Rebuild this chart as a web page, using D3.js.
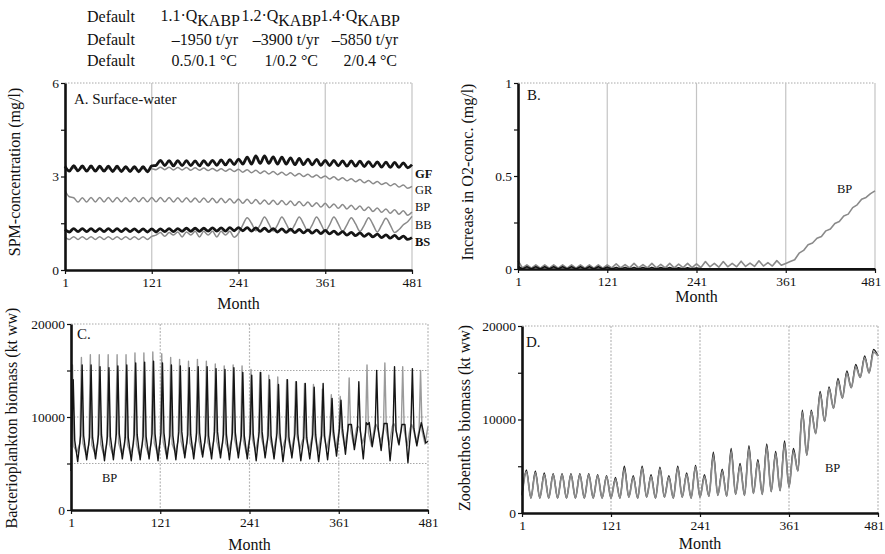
<!DOCTYPE html>
<html>
<head>
<meta charset="utf-8">
<script src="https://cdn.jsdelivr.net/npm/d3@7"></script>
<style>
  body { margin: 0; background: #fff; }
  svg { display: block; font-family: "Liberation Serif", "Times New Roman", serif; }
</style>
</head>
<body>
<svg id="chart" width="885" height="554"></svg>
<script>
// ---------- scenario header ----------
const scenarioFactors = ["1.1·Q", "1.2·Q", "1.4·Q"];
const scenarioLoads = ["–1950 t/yr", "–3900 t/yr", "–5850 t/yr"];
const scenarioTemps = ["0.5/0.1 °C", "1/0.2 °C", "2/0.4 °C"];

// ---------- shared month axis ----------
const monthTicks = [1, 121, 241, 361, 481];
const halfYearMonths = d3.range(1, 482, 6); // months 1, 7, 13, ... 481

// ---------- A. surface-water SPM (mg/l), half-yearly ----------
const gfSpm = [3.33,3.17,3.35,3.18,3.34,3.17,3.34,3.17,3.33,3.17,3.33,3.16,3.33,3.16,3.32,3.16,3.32,3.15,3.32,3.15,3.34,
  3.36,3.52,3.35,3.51,3.34,3.51,3.35,3.51,3.35,3.50,3.34,3.51,3.36,3.52,3.36,3.53,3.37,3.54,3.38,3.56,
  3.40,3.62,3.40,3.66,3.42,3.66,3.42,3.63,3.40,3.62,3.40,3.60,3.38,3.58,3.38,3.56,3.37,3.55,3.36,3.52,
  3.35,3.52,3.34,3.50,3.33,3.50,3.33,3.49,3.32,3.48,3.31,3.47,3.30,3.46,3.29,3.45,3.29,3.44,3.28,3.38];
const grSpm = [3.26,3.20,3.27,3.21,3.27,3.21,3.27,3.21,3.27,3.21,3.26,3.21,3.26,3.20,3.26,3.20,3.26,3.20,3.26,3.20,3.25,
  3.22,3.30,3.22,3.30,3.21,3.29,3.21,3.29,3.20,3.28,3.20,3.27,3.19,3.26,3.18,3.25,3.17,3.24,3.16,3.23,
  3.14,3.22,3.12,3.20,3.10,3.18,3.08,3.16,3.06,3.14,3.04,3.12,3.02,3.10,3.00,3.07,2.98,3.05,2.95,3.02,
  2.92,2.99,2.89,2.96,2.86,2.93,2.83,2.90,2.80,2.87,2.77,2.84,2.74,2.80,2.70,2.77,2.66,2.73,2.62,2.68];
const bpSpm = [2.55,2.35,2.32,2.18,2.32,2.18,2.33,2.18,2.33,2.18,2.33,2.18,2.33,2.19,2.33,2.19,2.33,2.19,2.33,2.19,2.33,
  2.19,2.33,2.19,2.33,2.18,2.32,2.18,2.32,2.18,2.31,2.17,2.31,2.17,2.30,2.16,2.30,2.16,2.29,2.15,2.28,
  2.14,2.27,2.13,2.26,2.12,2.25,2.11,2.24,2.10,2.23,2.09,2.21,2.07,2.20,2.06,2.18,2.04,2.16,2.02,2.14,
  2.00,2.12,1.98,2.10,1.96,2.08,1.94,2.05,1.91,2.02,1.88,1.99,1.85,1.96,1.82,1.93,1.79,1.90,1.76,1.86];
const bbSpm = [1.06,0.98,1.07,0.98,1.07,0.98,1.07,0.98,1.07,0.98,1.07,0.98,1.07,0.98,1.07,0.98,1.07,0.98,1.07,0.98,1.08,
  1.12,1.20,1.08,1.20,1.12,1.22,1.06,1.22,1.12,1.24,1.06,1.24,1.12,1.24,1.06,1.24,1.12,1.24,1.05,1.18,
  1.45,1.68,1.50,1.26,1.45,1.70,1.48,1.25,1.45,1.70,1.48,1.25,1.46,1.70,1.48,1.24,1.45,1.70,1.48,1.24,
  1.45,1.70,1.48,1.24,1.45,1.68,1.48,1.24,1.44,1.68,1.46,1.22,1.44,1.66,1.44,1.20,1.30,1.45,1.55,1.72];
const bsSpm = [1.30,1.22,1.33,1.23,1.33,1.23,1.33,1.23,1.33,1.23,1.33,1.23,1.33,1.23,1.33,1.23,1.32,1.22,1.32,1.22,1.32,
  1.22,1.32,1.23,1.33,1.23,1.33,1.24,1.34,1.24,1.34,1.24,1.34,1.25,1.35,1.25,1.35,1.25,1.36,1.26,1.36,
  1.26,1.36,1.25,1.35,1.24,1.34,1.23,1.33,1.22,1.32,1.21,1.31,1.20,1.30,1.19,1.29,1.18,1.28,1.17,1.27,
  1.16,1.25,1.14,1.23,1.12,1.21,1.10,1.19,1.08,1.17,1.06,1.15,1.04,1.13,1.02,1.11,1.00,1.09,0.98,1.04];

// ---------- B. increase in O2 concentration (mg/l), half-yearly ----------
const o2Bp = [0.045,0.006,0.022,0.005,0.022,0.005,0.022,0.005,0.022,0.005,0.022,0.005,0.022,0.005,0.022,0.005,0.022,0.005,0.022,0.005,0.022,
  0.006,0.028,0.006,0.024,0.006,0.030,0.006,0.024,0.006,0.030,0.006,0.025,0.006,0.030,0.006,0.026,0.007,0.030,0.007,0.028,
  0.008,0.040,0.012,0.030,0.010,0.040,0.012,0.030,0.012,0.042,0.014,0.032,0.014,0.044,0.016,0.034,0.016,0.045,0.020,0.030,
  0.040,0.050,0.085,0.100,0.130,0.140,0.165,0.175,0.205,0.215,0.245,0.255,0.285,0.295,0.330,0.345,0.375,0.385,0.405,0.420];
const o2Default = [0.014,0,0.012,0,0.012,0,0.012,0,0.012,0,0.012,0,0.012,0,0.012,0,0.012,0,0.012,0,0.010,
  0,0.008,0,0.008,0,0.008,0,0.008,0,0.008,0,0.007,0,0.007,0,0.006,0,0.006,0,0.005,
  0,0,0,0,0,0,0,0,0,0,0,0,0,0,0,0,0,0,0,0,
  0,0,0,0,0,0,0,0,0,0,0,0,0,0,0,0,0,0,0,0];

// ---------- C. bacterioplankton biomass (kt ww), one entry per model year ----------
const cGrayPeak = [15600,16400,16700,16700,16700,16700,16700,16900,16900,17000,
  16800,16400,16200,16000,16200,16000,15700,15500,15600,15500,
  15100,14800,14500,14300,14000,13800,13600,13500,13000,12400,
  12200,14200,9000,15600,9200,15800,9300,15400,9200,15000];
const cBlackPeak = [14000,15600,15600,15400,15300,15500,15600,15800,15900,16000,
  15800,15600,15500,15300,15400,15400,15200,15100,15300,14800,
  14500,14800,14000,13500,14000,13800,13600,13200,13600,12000,
  11800,9200,13800,9200,15000,9300,15400,9200,15200,9400];
const cGrayBase = [6800,7200,7000,7100,7000,7200,7000,7100,7000,7200,
  7300,7100,7400,7200,7500,7300,7400,7200,7600,7400,
  7600,7800,7500,7800,7600,7900,7700,7800,8000,8200,
  8400,8600,8800,8300,8900,8500,9000,8600,8800,8500];
const cGrayLow = [6200,6000,6100,5900,6000,6100,6000,5900,6000,6100,
  6000,6200,6100,6300,6000,6200,6100,6300,6200,6000,
  6300,6400,6200,6500,6300,6600,6400,6200,6500,6600,
  6800,7000,7200,6900,7300,7000,7200,6900,7300,7100];
const cBlackBase = [7500,8000,7800,8100,7900,8200,7800,8100,7900,8200,
  8300,8000,8400,8100,8300,8000,8400,8100,8300,8000,
  8200,8400,8000,8300,7900,8200,7800,8100,8000,8500,
  8800,9200,8600,9400,8800,9300,8600,9200,8800,8700];
const cBlackLow = [5200,5400,5500,5300,5400,5500,5300,5400,5500,5300,
  5500,5400,5600,5500,5700,5500,5600,5400,5600,5500,
  5300,5600,5500,5200,5600,5300,5500,5200,5400,5800,
  6000,6500,5500,6800,6400,5300,7000,5100,6900,7200];
const cBlackStart = 4200;
const cGrayEnd = 9000;
const cBlackEnd = 7400;

// ---------- D. zoobenthos biomass (kt ww), one entry per model year ----------
const dGrayPeak = [4400,4300,4100,4100,4100,4100,4100,4100,4000,3900,
  3600,4700,3800,4800,3900,4700,3800,4800,4100,4900,
  3900,6100,4400,6500,5000,6800,5400,7000,6300,7300,
  6600,10700,10800,12700,13300,14100,14900,15600,16600,17200];
const dBlackPeak = [4600,4500,4300,4200,4200,4200,4200,4200,4100,4000,
  3800,5000,4000,5000,4100,4900,4000,5000,4300,5100,
  4100,6500,4700,6900,5300,7200,5700,7400,6600,7700,
  6900,11000,11000,13000,13500,14400,15200,15900,16800,17500];
const dTrough = [1900,1600,1600,1600,1600,1600,1600,1600,1600,1600,
  1600,1600,1700,1600,1700,1600,1700,1600,1700,1600,
  1700,1800,1900,1800,2000,1900,2100,2000,2300,2400,
  2800,4500,6200,8500,9800,11200,12300,13400,14500,15000];
const dEnd = 16800;

// ---------- drawing ----------
const svg = d3.select("#chart");
const GRAY = "#8a8a8a";

// scenario header rows
const header = svg.append("g").attr("font-size", 16).attr("fill", "#111");
[22, 45, 66].forEach(yb => header.append("text").attr("x", 87).attr("y", yb).text("Default"));
const colRight = [240, 321, 400];
scenarioFactors.forEach((f, i) => {
  const t = header.append("text").attr("x", colRight[i]).attr("y", 21).attr("text-anchor", "end");
  t.append("tspan").text(f);
  t.append("tspan").attr("dy", 5).text("KABP");
});
scenarioLoads.forEach((s, i) => header.append("text").attr("x", colRight[i] - 2).attr("y", 45).attr("text-anchor", "end").text(s));
scenarioTemps.forEach((s, i) => header.append("text").attr("x", colRight[i] - 3).attr("y", 66).attr("text-anchor", "end").text(s));

function panel(cfg) {
  const g = svg.append("g");
  const x = d3.scaleLinear().domain([1, 481]).range([cfg.left, cfg.right]);
  const y = d3.scaleLinear().domain([0, cfg.yMax]).range([cfg.bottom, cfg.top]);

  // horizontal dotted gridlines (including the top frame)
  g.selectAll(".hgrid").data(cfg.hGrid).join("line")
    .attr("x1", cfg.left).attr("x2", cfg.right)
    .attr("y1", d => y(d)).attr("y2", d => y(d))
    .attr("stroke", "#a8a8a8").attr("stroke-width", 1).attr("stroke-dasharray", "1.5,1.5");
  // vertical gridlines at the labelled months and the right frame
  g.selectAll(".vgrid").data(monthTicks.slice(1)).join("line")
    .attr("x1", d => x(d)).attr("x2", d => x(d))
    .attr("y1", cfg.top).attr("y2", cfg.bottom)
    .attr("stroke", cfg.vColor).attr("stroke-width", 1.2)
    .attr("stroke-dasharray", cfg.vDash);
  return { g, x, y, cfg };
}

function axes(p) {
  const { g, x, y, cfg } = p;
  const xAxis = g.append("g").attr("transform", `translate(0,${cfg.bottom})`)
    .call(d3.axisBottom(x).tickValues(monthTicks).tickSize(4).tickSizeOuter(0).tickPadding(3));
  const yAxis = g.append("g").attr("transform", `translate(${cfg.left},0)`)
    .call(d3.axisLeft(y).tickValues(cfg.yTicks).tickSize(4).tickSizeOuter(0).tickPadding(2)
      .tickFormat(d => cfg.yLabels.includes(d) ? cfg.yFormat(d) : ""));
  [xAxis, yAxis].forEach(a => {
    a.attr("font-family", null).attr("font-size", 13.5);
    a.select(".domain").attr("stroke", "#111").attr("stroke-width", 2.6);
    a.selectAll(".tick line").attr("stroke", "#111").attr("stroke-width", 1.2);
    a.selectAll(".tick text").attr("fill", "#111");
  });
  if (cfg.lastTickEnd) {
    xAxis.selectAll(".tick text").filter(d => d === 481)
      .attr("text-anchor", "end").attr("dx", 6);
  }
  g.append("text").attr("x", (cfg.left + cfg.right) / 2).attr("y", cfg.monthY)
    .attr("text-anchor", "middle").attr("font-size", 16).attr("fill", "#111").text("Month");
  g.append("text")
    .attr("transform", `translate(${cfg.titleX},${cfg.titleY}) rotate(-90)`)
    .attr("text-anchor", "middle").attr("font-size", 16).attr("fill", "#111").text(cfg.yTitle);
  g.append("text").attr("x", cfg.letterX).attr("y", cfg.letterY)
    .attr("font-size", 15).attr("fill", "#111").text(cfg.letter);
}

function drawLine(p, pts, color, width, curve) {
  p.g.append("path").datum(pts)
    .attr("fill", "none").attr("stroke", color).attr("stroke-width", width)
    .attr("stroke-linejoin", "round")
    .attr("d", d3.line().x(d => p.x(d[0])).y(d => p.y(d[1])).curve(curve));
}

const halfYear = vals => vals.map((v, i) => [halfYearMonths[i], v]);

// ----- panel A -----
const pA = panel({ left: 65, right: 412, top: 83, bottom: 270, yMax: 6, hGrid: [6],
  vColor: "#c4c4c4", vDash: null });
[grSpm, bpSpm, bbSpm].forEach(s => drawLine(pA, halfYear(s), GRAY, 1.5, d3.curveMonotoneX));
[gfSpm, bsSpm].forEach(s => drawLine(pA, halfYear(s), "#151515", 2.8, d3.curveMonotoneX));
axes(Object.assign(pA, { cfg: Object.assign(pA.cfg, {
  yTicks: [0, 1.5, 3, 4.5, 6], yLabels: [0, 3, 6], yFormat: d => d,
  monthY: 309, titleX: 20, titleY: 172, yTitle: "SPM-concentration (mg/l)",
  letter: "A. Surface-water", letterX: 74, letterY: 104 }) }));
const seriesLabelsA = [["GF", 178, true], ["GR", 194, false], ["BP", 211, false], ["BB", 229, false], ["BS", 246, true]];
pA.g.selectAll(".slab").data(seriesLabelsA).join("text")
  .attr("x", 415).attr("y", d => d[1]).attr("font-size", 12.5)
  .attr("font-weight", d => d[2] ? "bold" : "normal").attr("fill", "#111").text(d => d[0]);

// ----- panel B -----
const pB = panel({ left: 518, right: 875, top: 83, bottom: 269, yMax: 1, hGrid: [1],
  vColor: "#c4c4c4", vDash: null });
drawLine(pB, halfYear(o2Bp), GRAY, 1.6, d3.curveLinear);
drawLine(pB, halfYear(o2Default), "#151515", 1.8, d3.curveLinear);
axes(Object.assign(pB, { cfg: Object.assign(pB.cfg, {
  yTicks: [0, 0.25, 0.5, 0.75, 1], yLabels: [0, 0.5, 1], yFormat: d => d,
  monthY: 302, titleX: 473, titleY: 172, yTitle: "Increase in O2-conc. (mg/l)",
  letter: "B.", letterX: 527, letterY: 100, lastTickEnd: true }) }));
pB.g.append("text").attr("x", 837).attr("y", 193).attr("font-size", 12.5).attr("fill", "#111").text("BP");

// ----- panel C -----
const pC = panel({ left: 71, right: 428, top: 324, bottom: 510, yMax: 20000,
  hGrid: [5000, 10000, 15000, 20000], vColor: "#b8b8b8", vDash: "2,1.5" });
const cGraySeries = [];
const cBlackSeries = [[1, cBlackStart]];
cGrayPeak.forEach((pk, i) => {
  const s = 1 + 12 * i;
  cGraySeries.push([s, cGrayBase[i]], [s + 2, pk], [s + 4, cGrayBase[i]], [s + 8, cGrayLow[i]]);
  cBlackSeries.push([s + 1, cBlackBase[i]], [s + 3, cBlackPeak[i]], [s + 5, cBlackBase[i]], [s + 9, cBlackLow[i]]);
});
cGraySeries.push([481, cGrayEnd]);
cBlackSeries.push([481, cBlackEnd]);
drawLine(pC, cGraySeries, "#9a9a9a", 1.4, d3.curveLinear);
drawLine(pC, cBlackSeries, "#151515", 1.4, d3.curveLinear);
axes(Object.assign(pC, { cfg: Object.assign(pC.cfg, {
  yTicks: [0, 5000, 10000, 15000, 20000], yLabels: [0, 10000, 20000], yFormat: d => d,
  monthY: 550, titleX: 17, titleY: 418, yTitle: "Bacterioplankton biomass (kt ww)",
  letter: "C.", letterX: 77, letterY: 339 }) }));
pC.g.append("text").attr("x", 102).attr("y", 482).attr("font-size", 12.5).attr("fill", "#111").text("BP");

// ----- panel D -----
const pD = panel({ left: 522, right: 878, top: 326, bottom: 513, yMax: 20000,
  hGrid: [20000], vColor: "#b8b8b8", vDash: "2,1.5" });
const dGraySeries = [];
const dBlackSeries = [];
dTrough.forEach((tr, i) => {
  const s = 1 + 12 * i;
  dGraySeries.push([s, tr], [s + 6, dGrayPeak[i]]);
  dBlackSeries.push([s, tr], [s + 6, dBlackPeak[i]]);
});
dGraySeries.push([481, dEnd]);
dBlackSeries.push([481, dEnd]);
drawLine(pD, dBlackSeries, "#151515", 1.3, d3.curveMonotoneX);
drawLine(pD, dGraySeries, "#8a8a8a", 1.8, d3.curveMonotoneX);
axes(Object.assign(pD, { cfg: Object.assign(pD.cfg, {
  yTicks: [0, 5000, 10000, 15000, 20000], yLabels: [0, 10000, 20000], yFormat: d => d,
  monthY: 549, titleX: 470, titleY: 418, yTitle: "Zoobenthos biomass (kt ww)",
  letter: "D.", letterX: 526, letterY: 347, lastTickEnd: true }) }));
pD.g.append("text").attr("x", 825).attr("y", 472).attr("font-size", 12.5).attr("fill", "#111").text("BP");
</script>
</body>
</html>
